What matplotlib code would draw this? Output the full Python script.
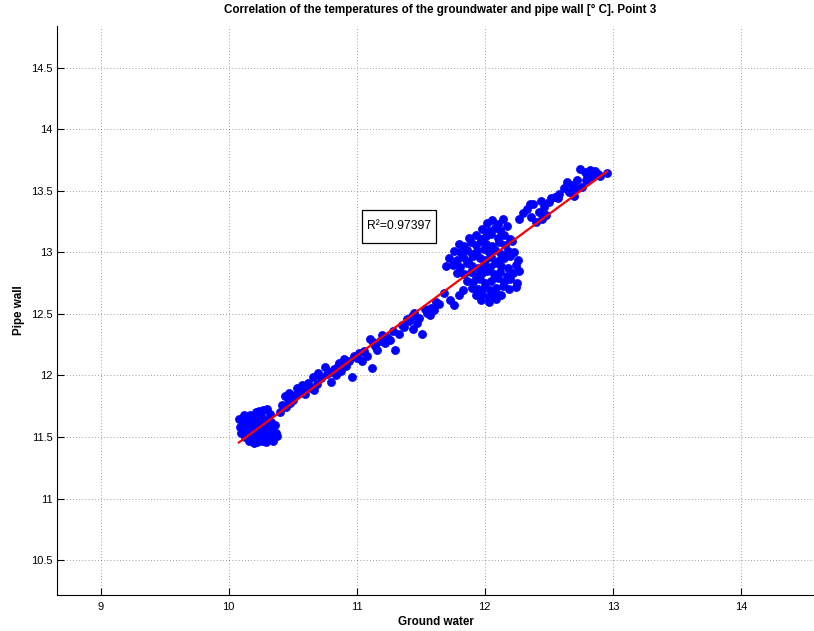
import numpy as np
import matplotlib
matplotlib.use("Agg")
import matplotlib.pyplot as plt
from matplotlib.patches import Rectangle

plt.rcParams["font.family"] = ["Liberation Sans", "DejaVu Sans"]

# Cluster near 10.1-10.4 degC
gw_low = [10.08, 10.09, 10.10, 10.11, 10.12, 10.13, 10.14, 10.15, 10.16, 10.17,
          10.18, 10.18, 10.19, 10.20, 10.21, 10.21, 10.22, 10.23, 10.23, 10.24,
          10.25, 10.25, 10.26, 10.26, 10.27, 10.27, 10.28, 10.29, 10.29, 10.30,
          10.31, 10.31, 10.32, 10.33, 10.33, 10.34, 10.35, 10.36, 10.38, 10.30,
          10.24, 10.20, 10.12, 10.16, 10.28, 10.22, 10.34, 10.26, 10.14, 10.37]
pw_low = [11.65, 11.58, 11.53, 11.61, 11.56, 11.50, 11.64, 11.59, 11.54, 11.68,
          11.62, 11.48, 11.57, 11.51, 11.70, 11.63, 11.46, 11.55, 11.59, 11.49,
          11.67, 11.52, 11.47, 11.61, 11.56, 11.72, 11.50, 11.64, 11.46, 11.53,
          11.58, 11.48, 11.69, 11.51, 11.62, 11.56, 11.47, 11.60, 11.51, 11.73,
          11.71, 11.45, 11.68, 11.47, 11.54, 11.66, 11.49, 11.58, 11.55, 11.53]

# Transition band 10.4-11.65 degC
gw_mid = [10.40, 10.42, 10.44, 10.45, 10.47, 10.48, 10.50, 10.52, 10.55, 10.57,
          10.59, 10.60, 10.62, 10.64, 10.66, 10.67, 10.69, 10.72, 10.75, 10.77,
          10.79, 10.80, 10.82, 10.84, 10.86, 10.88, 10.90, 10.92, 10.94, 10.96,
          10.98, 11.00, 11.02, 11.04, 11.06, 11.08, 11.10, 11.12, 11.14, 11.16,
          11.18, 11.20, 11.22, 11.24, 11.26, 11.28, 11.30, 11.33, 11.35, 11.37,
          11.39, 11.41, 11.43, 11.45, 11.47, 11.49, 11.51, 11.53, 11.55, 11.58,
          11.60, 11.62, 11.64, 10.46, 10.53, 10.70, 10.85, 11.13, 11.44, 11.57]
pw_mid = [11.70, 11.76, 11.83, 11.74, 11.86, 11.78, 11.80, 11.84, 11.86, 11.92,
          11.88, 11.85, 11.94, 11.90, 11.99, 11.88, 11.93, 11.98, 12.07, 12.01,
          12.03, 11.95, 12.05, 12.00, 12.10, 12.04, 12.13, 12.08, 12.12, 11.99,
          12.16, 12.14, 12.18, 12.12, 12.20, 12.16, 12.30, 12.06, 12.24, 12.21,
          12.28, 12.33, 12.26, 12.31, 12.29, 12.36, 12.21, 12.34, 12.41, 12.39,
          12.46, 12.44, 12.48, 12.51, 12.43, 12.47, 12.34, 12.54, 12.51, 12.55,
          12.53, 12.60, 12.58, 11.81, 11.90, 12.02, 12.08, 12.27, 12.38, 12.49]

# Dense cluster around 12 degC
gw_mainc = [12.02, 12.06, 12.10, 12.14,
            11.98, 12.03, 12.08, 12.12, 12.17,
            11.88, 11.93, 11.97, 12.01, 12.05, 12.10, 12.15, 12.20,
            11.80, 11.84, 11.89, 11.93, 11.97, 12.01, 12.06, 12.11, 12.16, 12.21,
            11.76, 11.81, 11.86, 11.90, 11.94, 11.99, 12.03, 12.08, 12.13, 12.18, 12.23,
            11.72, 11.78, 11.83, 11.87, 11.91, 11.96, 12.00, 12.05, 12.10, 12.15, 12.20, 12.26,
            11.70, 11.75, 11.81, 11.86, 11.90, 11.95, 11.99, 12.04, 12.08, 12.13, 12.18, 12.24,
            11.78, 11.84, 11.89, 11.93, 11.98, 12.02, 12.07, 12.12, 12.17, 12.22, 12.27,
            11.86, 11.91, 11.96, 12.00, 12.05, 12.10, 12.15, 12.20, 12.25,
            11.90, 11.95, 12.00, 12.04, 12.09, 12.14, 12.19, 12.24,
            11.93, 11.98, 12.03, 12.08, 12.13,
            11.97, 12.03, 12.09,
            11.68, 11.73, 11.76, 11.80, 11.83]
pw_mainc = [13.24, 13.26, 13.23, 13.27,
            13.19, 13.17, 13.20, 13.18, 13.21,
            13.12, 13.14, 13.11, 13.13, 13.15, 13.12, 13.14, 13.11,
            13.07, 13.05, 13.08, 13.06, 13.09, 13.07, 13.05, 13.08, 13.06, 13.09,
            13.01, 13.00, 13.02, 12.99, 13.01, 13.03, 13.00, 13.02, 12.99, 13.01, 13.00,
            12.95, 12.94, 12.96, 12.93, 12.97, 12.95, 12.94, 12.96, 12.93, 12.95, 12.97, 12.94,
            12.89, 12.90, 12.88, 12.91, 12.89, 12.87, 12.90, 12.88, 12.91, 12.89, 12.87, 12.90,
            12.83, 12.82, 12.84, 12.81, 12.83, 12.85, 12.82, 12.84, 12.81, 12.83, 12.85,
            12.77, 12.76, 12.78, 12.75, 12.77, 12.79, 12.76, 12.78, 12.75,
            12.71, 12.70, 12.72, 12.69, 12.71, 12.73, 12.70, 12.72,
            12.65, 12.66, 12.64, 12.67, 12.65,
            12.61, 12.60, 12.62,
            12.67, 12.61, 12.57, 12.65, 12.69]

# Upper tail 12.3-12.95 degC
gw_high = [12.27, 12.30, 12.33, 12.36, 12.38, 12.40, 12.42, 12.44, 12.46, 12.48,
           12.50, 12.52, 12.55, 12.58, 12.62, 12.64, 12.66, 12.68, 12.70, 12.72,
           12.74, 12.76, 12.78, 12.80, 12.82, 12.84, 12.86, 12.88, 12.90, 12.955,
           12.35, 12.45, 12.57, 12.71, 12.79]
pw_high = [13.27, 13.32, 13.35, 13.29, 13.39, 13.25, 13.33, 13.42, 13.37, 13.30,
           13.41, 13.44, 13.45, 13.47, 13.52, 13.57, 13.49, 13.55, 13.46, 13.59,
           13.68, 13.53, 13.65, 13.63, 13.67, 13.61, 13.66, 13.64, 13.62, 13.645,
           13.39, 13.27, 13.44, 13.52, 13.59]

r2_label = "R\u00b2=0.97397"

ground = np.array(gw_low + gw_mid + gw_mainc + gw_high)
pipe = np.array(pw_low + pw_mid + pw_mainc + pw_high)

fig = plt.figure(figsize=(8.14, 6.31), dpi=100)
ax = fig.add_axes([57 / 814, 36 / 631, 1 - 57 / 814, (595 - 26) / 631])

ax.plot(ground, pipe, "o", color="#0000ff", ms=5.8, mew=0.5, mec="#0000ff", zorder=3)

# Least-squares fit over the observed range
b, a = np.polyfit(ground, pipe, 1)
xs = np.array([ground.min(), ground.max()])
ax.plot(xs, a + b * xs, color="red", lw=1.6, zorder=4)

# Annotation box with the coefficient of determination
ax.add_patch(Rectangle((11.045, 13.078), 0.575, 0.266, fc="white", ec="black",
                       lw=0.9, zorder=5))
ax.text(11.08, 13.211, r2_label, fontsize=8.7, ha="left", va="center", zorder=6)

ax.set_xlim(8.66, 14.57)
ax.set_ylim(10.216, 14.839)
ax.set_xticks([9, 10, 11, 12, 13, 14])
ax.set_yticks([10.5, 11, 11.5, 12, 12.5, 13, 13.5, 14, 14.5])
ax.set_yticklabels(["10.5", "11", "11.5", "12", "12.5", "13", "13.5", "14", "14.5"])
ax.grid(True, color="black", linestyle=(0, (1, 3.5)), lw=0.5, alpha=0.7)
ax.set_axisbelow(True)
for side in ("top", "right"):
    ax.spines[side].set_visible(False)
for side in ("left", "bottom"):
    ax.spines[side].set_linewidth(0.8)
ax.tick_params(direction="in", length=5, width=0.8, labelsize=8)
ax.tick_params(axis="x", pad=5)
ax.tick_params(axis="y", pad=3)

ax.set_title("Correlation of the temperatures of the groundwater and pipe wall [\u00b0 C]. Point 3",
             fontsize=8.4, fontweight="bold", pad=9, x=0.5066)
ax.set_xlabel("Ground water", fontsize=8.4, fontweight="bold", labelpad=3)
ax.set_ylabel("Pipe wall", fontsize=8.4, fontweight="bold", labelpad=4.5)

fig.savefig("out.png", dpi=100)
